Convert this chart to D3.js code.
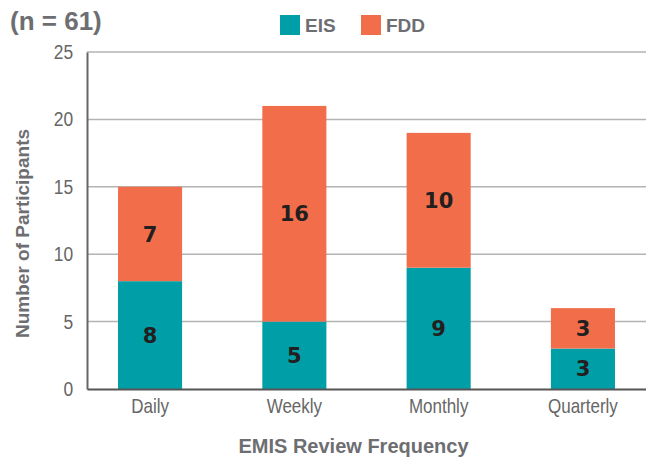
<!DOCTYPE html>
<html lang="en">
<head>
    <meta charset="UTF-8">
    <title>EMIS Review Frequency</title>
    <style>
        body { margin: 0; background: #fff; }
        text { font-family: "Liberation Sans", Arial, sans-serif; }
        .bold { font-weight: bold; }
    </style>
</head>
<body>
    <div id="chart"></div>
    <script src="https://d3js.org/d3.v7.min.js"></script>
    <script>
        var categories = ["Daily", "Weekly", "Monthly", "Quarterly"];
        var eis = [8, 5, 9, 3];
        var fdd = [7, 16, 10, 3];
        var seriesNames = ["EIS", "FDD"];
        var yTicks = [0, 5, 10, 15, 20, 25];

        var W = 646, H = 457;
        var margin = {top: 52, right: 0, bottom: 68, left: 87};
        var width = W - margin.left - margin.right,
            height = H - margin.top - margin.bottom;

        var svg = d3.select('#chart')
            .append('svg')
                .attr('width', W)
                .attr('height', H);

        var g = svg.append('g')
            .attr('transform', 'translate(' + margin.left + ',' + margin.top + ')');

        var x = d3.scaleBand()
            .domain(categories)
            .range([0, width])
            .paddingInner(0.556)
            .paddingOuter(0.215);

        var y = d3.scaleLinear()
            .domain([0, 25])
            .range([height, 0]);

        var color = d3.scaleOrdinal()
            .domain(seriesNames)
            .range(["#009ea6", "#f26e4b"]);

        // gridlines
        g.append('g')
            .selectAll('line')
            .data(yTicks.slice(1))
            .enter().append('line')
                .attr('x1', 0)
                .attr('x2', width)
                .attr('y1', d => y(d))
                .attr('y2', d => y(d))
                .style('stroke', '#b3b3b3')
                .style('stroke-width', 1.5);

        // stacked data
        var rows = categories.map(function(c, i) { return {cat: c, EIS: eis[i], FDD: fdd[i]}; });
        var stacked = d3.stack().keys(seriesNames)(rows);

        var layers = g.selectAll('.layer')
            .data(stacked)
            .enter().append('g')
                .attr('class', 'layer')
                .style('fill', d => color(d.key));

        layers.selectAll('rect')
            .data(d => d)
            .enter().append('rect')
                .attr('x', d => x(d.data.cat))
                .attr('y', d => y(d[1]))
                .attr('width', x.bandwidth())
                .attr('height', d => y(d[0]) - y(d[1]));

        layers.selectAll('.val')
            .data(d => d)
            .enter().append('text')
                .attr('class', 'val bold')
                .attr('x', d => x(d.data.cat) + x.bandwidth() / 2)
                .attr('y', d => y((d[0] + d[1]) / 2))
                .attr('dy', '.36em')
                .style('font-family', '"DejaVu Sans", sans-serif')
                .style('text-anchor', 'middle')
                .style('font-size', '21px')
                .style('fill', '#231f20')
                .text(d => d[1] - d[0]);

        // axes (tick text squeezed to look like a narrow face)
        var yAxis = g.append('g')
            .call(d3.axisLeft(y).tickValues(yTicks).tickSize(0).tickPadding(16));
        yAxis.select('.domain').style('stroke', '#666').style('stroke-width', 2);
        yAxis.selectAll('text')
            .style('font-size', '20px')
            .style('fill', '#666')
            .attr('transform', 'scale(0.87,1)');

        var xAxis = g.append('g')
            .attr('transform', 'translate(0,' + height + ')')
            .call(d3.axisBottom(x).tickSize(0).tickPadding(10));
        xAxis.select('.domain').style('stroke', '#555').style('stroke-width', 2);
        xAxis.selectAll('text')
            .style('font-size', '20px')
            .style('fill', '#666')
            .attr('transform', 'scale(0.85,1)');

        // titles
        svg.append('text')
            .attr('class', 'bold')
            .attr('x', 10)
            .attr('y', 30)
            .style('font-size', '26px')
            .style('fill', '#6d6e71')
            .text('(n = 61)');

        svg.append('text')
            .attr('class', 'bold')
            .attr('transform', 'translate(29,' + (margin.top + height / 2 + 13) + ') rotate(-90)')
            .style('text-anchor', 'middle')
            .style('font-size', '19px')
            .style('fill', '#6d6e71')
            .text('Number of Participants');

        svg.append('text')
            .attr('class', 'bold')
            .attr('x', margin.left + width / 2 - 13)
            .attr('y', 453)
            .style('text-anchor', 'middle')
            .style('font-size', '20px')
            .style('fill', '#6d6e71')
            .text('EMIS Review Frequency');

        // legend
        var legend = svg.append('g')
            .selectAll('.legend')
            .data(seriesNames)
            .enter().append('g')
                .attr('class', 'legend')
                .attr('transform', (d, i) => 'translate(' + (280 + i * 81) + ',15)');

        legend.append('rect')
            .attr('width', 20)
            .attr('height', 20)
            .style('fill', color);

        legend.append('text')
            .attr('class', 'bold')
            .attr('x', 25)
            .attr('y', 10)
            .attr('dy', '.36em')
            .style('font-size', '19px')
            .style('fill', '#6d6e71')
            .text(d => d);
    </script>
</body>
</html>
